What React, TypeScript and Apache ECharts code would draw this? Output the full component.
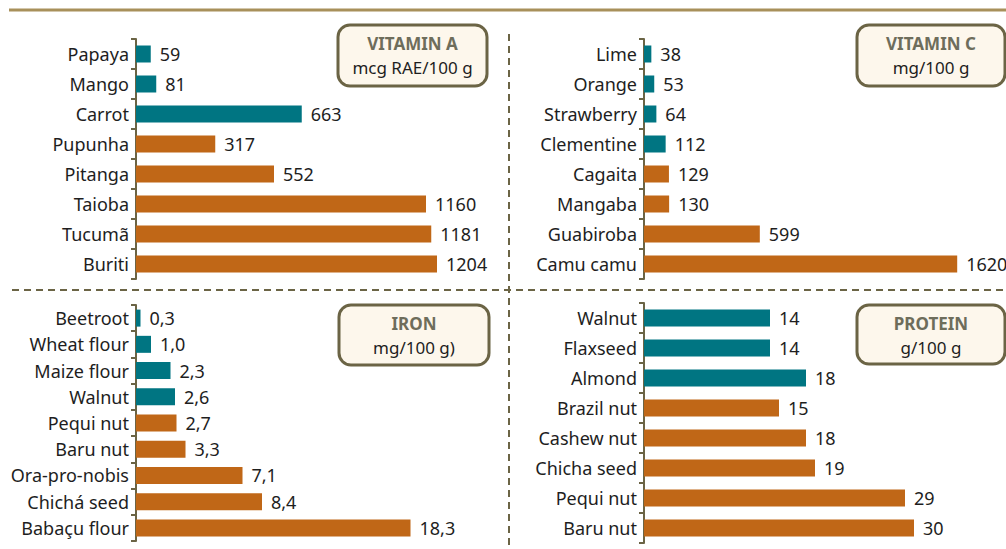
import React, { useEffect, useRef } from "react";
import * as echarts from "echarts";

const vitACats = ["Papaya", "Mango", "Carrot", "Pupunha", "Pitanga", "Taioba", "Tucumã", "Buriti"];
const vitAVals = [59, 81, 663, 317, 552, 1160, 1181, 1204];
const vitATeal = 3;

const vitCCats = ["Lime", "Orange", "Strawberry", "Clementine", "Cagaita", "Mangaba", "Guabiroba", "Camu camu"];
const vitCVals = [38, 53, 64, 112, 129, 130, 599, 1620];
const vitCTeal = 4;

const ironCats = ["Beetroot", "Wheat flour", "Maize flour", "Walnut", "Pequi nut", "Baru nut", "Ora-pro-nobis", "Chichá seed", "Babaçu flour"];
const ironVals = [0.3, 1.0, 2.3, 2.6, 2.7, 3.3, 7.1, 8.4, 18.3];
const ironTeal = 4;

const protCats = ["Walnut", "Flaxseed", "Almond", "Brazil nut", "Cashew nut", "Chicha seed", "Pequi nut", "Baru nut"];
const protVals = [14, 14, 18, 15, 18, 19, 29, 30];
const protTeal = 3;

const TEAL = "#007582";
const ORANGE = "#c06717";
const OLIVE = "#6b6445";
const FONT = "'Noto Sans', sans-serif";

function makeBox(x: number, y: number, w: number, h: number, title: string, sub: string) {
  return {
    type: "group",
    children: [
      { type: "rect", shape: { x, y, width: w, height: h, r: 12 }, style: { fill: "#fdf7ec", stroke: OLIVE, lineWidth: 3 } },
      { type: "text", style: { text: title, x: x + w / 2, y: y + 18, align: "center", verticalAlign: "middle", fontSize: 17, fontWeight: "bold", fontFamily: FONT, fill: "#6e6d5b" } },
      { type: "text", style: { text: sub, x: x + w / 2, y: y + 42, align: "center", verticalAlign: "middle", fontSize: 17, fontFamily: FONT, fill: "#1e1e1e" } },
    ],
  };
}

export default function App() {
  const ref = useRef<HTMLDivElement>(null);
  useEffect(() => {
    if (!ref.current) return;
    const chart = echarts.init(ref.current, null, { renderer: "svg" });
    const panels = [
      { cats: vitACats, vals: vitAVals, teal: vitATeal, grid: { left: 136, top: 39, width: 350, height: 240 }, max: 1400, fmt: (v: number) => String(v) },
      { cats: vitCCats, vals: vitCVals, teal: vitCTeal, grid: { left: 644, top: 39, width: 348, height: 240 }, max: 1800, fmt: (v: number) => String(v) },
      { cats: ironCats, vals: ironVals, teal: ironTeal, grid: { left: 136, top: 305, width: 300, height: 236 }, max: 20, fmt: (v: number) => v.toFixed(1).replace(".", ",") },
      { cats: protCats, vals: protVals, teal: protTeal, grid: { left: 644, top: 303, width: 342, height: 240 }, max: 38, fmt: (v: number) => String(v) },
    ];
    const option: any = {
      animation: false,
      grid: panels.map((p) => ({ ...p.grid, containLabel: false })),
      xAxis: panels.map((p, i) => ({
        type: "value", gridIndex: i, min: 0, max: p.max, show: false,
      })),
      yAxis: panels.map((p, i) => ({
        type: "category", gridIndex: i, data: p.cats, inverse: true,
        axisLine: { show: true, lineStyle: { color: OLIVE, width: 2 } },
        axisTick: { show: true, length: 5, lineStyle: { color: OLIVE, width: 2 } },
        axisLabel: { color: "#1e1e1e", fontSize: 18, fontFamily: FONT, margin: 7 },
      })),
      series: panels.map((p, i) => ({
        type: "bar", xAxisIndex: i, yAxisIndex: i, barWidth: 17,
        data: p.vals.map((v, j) => ({ value: v, itemStyle: { color: j < p.teal ? TEAL : ORANGE } })),
        label: {
          show: true, position: "right", distance: 9, color: "#1e1e1e", fontSize: 18, fontFamily: FONT,
          formatter: (d: any) => p.fmt(d.value),
        },
      })),
      graphic: [
        { type: "line", shape: { x1: 9, y1: 10, x2: 1006, y2: 10 }, style: { stroke: "#a8905a", lineWidth: 3 } },
        { type: "line", shape: { x1: 12, y1: 290, x2: 1006, y2: 290 }, style: { stroke: OLIVE, lineWidth: 2, lineDash: [7, 5] } },
        { type: "line", shape: { x1: 509, y1: 34, x2: 509, y2: 549 }, style: { stroke: OLIVE, lineWidth: 2, lineDash: [7, 5] } },
        makeBox(338, 25, 149, 61, "VITAMIN A", "mcg RAE/100 g"),
        makeBox(857, 25, 148, 61, "VITAMIN C", "mg/100 g"),
        makeBox(339, 305, 150, 60, "IRON", "mg/100 g)"),
        makeBox(857, 305, 148, 59, "PROTEIN", "g/100 g"),
      ],
    };
    chart.setOption(option);
    return () => chart.dispose();
  }, []);
  return <div ref={ref} style={{ position: "fixed", left: 0, top: 0, width: 1006, height: 549, background: "#fff" }} />;
}
